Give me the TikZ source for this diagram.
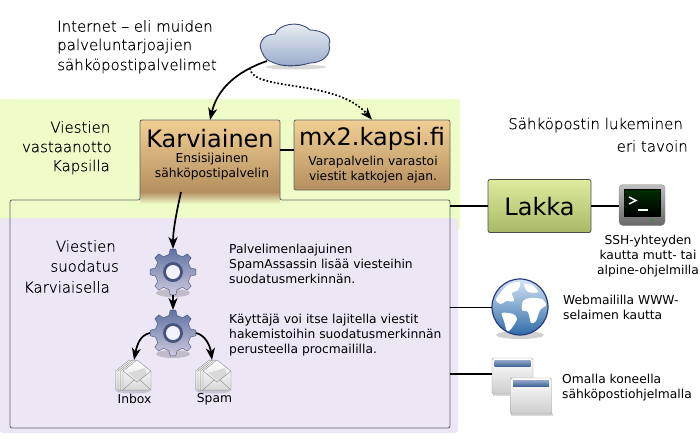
\documentclass[tikz,border=0pt]{standalone}
\usepackage{fontspec}
\setmainfont{DejaVu Sans}
\newfontfamily\thinfont[RawFeature={embolden=0.4}]{DejaVu Sans ExtraLight}
\usetikzlibrary{positioning, shapes, arrows.meta}

\definecolor{recvgreen}{HTML}{EEFCC8}
\definecolor{filtlilac}{HTML}{ECE6F5}
\definecolor{frame}{HTML}{666666}
\definecolor{tantop}{HTML}{F0CF93}
\definecolor{tanbot}{HTML}{B58F60}
\definecolor{geartop}{HTML}{5F73A3}
\definecolor{gearbot}{HTML}{CFC9DE}
\definecolor{gearline}{HTML}{46557F}
\definecolor{cloudtop}{HTML}{F2F5F9}
\definecolor{cloudbot}{HTML}{98AACA}
\definecolor{cloudline}{HTML}{3C4A78}
\definecolor{lakkatop}{HTML}{DFEB9C}
\definecolor{lakkabot}{HTML}{A6BA68}
\definecolor{globetop}{HTML}{D5E4F3}
\definecolor{globebot}{HTML}{2F6CA9}
\definecolor{globeline}{HTML}{2B3A80}
\definecolor{bartop}{HTML}{8FA3C6}
\definecolor{barbot}{HTML}{44689C}

\tikzset{
  heading/.style={font=\thinfont\fontsize{15}{20}\selectfont, inner sep=0pt},
  note/.style={font=\fontsize{12.3}{15}\selectfont, inner sep=0pt, align=left},
  boxname/.style={font=\fontsize{24}{28}\selectfont, inner sep=0pt},
  spot/.style={inner sep=0pt, outer sep=0pt},
  flow/.style={line width=1.7pt, -{Stealth[length=12pt,width=9pt,inset=3.5pt]}},
  link/.style={line width=1.8pt},
  gearicon/.pic={
    \fill[black, opacity=.18] (0,21) ellipse (17 and 4);
    \shade[draw=gearline, top color=geartop, bottom color=gearbot, line join=round]
      (-13:18) \foreach \a in {0,45,...,315} {
        -- ({\a-13}:18) -- ({\a-7}:23) -- ({\a+7}:23) -- ({\a+13}:18)} -- cycle;
    \fill[gearline] (0,0) circle (10);
    \fill[white!95!blue] (0,0) circle (7);
  },
  mailicon/.pic={
    \fill[black, opacity=.15] (-4,15) ellipse (17 and 2.5);
    \foreach \d in {-7.5,-5,-2.5,0} {
      \shade[draw=black!45, top color=white, bottom color=black!15, line join=round]
        (\d-14,-5) -- (\d,-16) -- (\d+14,-5) -- (\d+14,14) -- (\d-14,14) -- cycle;
    }
    \fill[black!15] (-9,-3) -- (8,-8) -- (10,-1) -- (0,4) -- cycle;
    \draw[black!45] (-14,-5) -- (0,6) -- (14,-5) (-14,14) -- (-3,4) (14,14) -- (3,4);
  },
  windowicon/.pic={
    \fill[black, opacity=.15] (-20,17) rectangle (22,20);
    \shade[draw=black!40, rounded corners=1.5pt, top color=white, bottom color=black!20] (-20.5,-18) rectangle (20.5,18);
    \shade[top color=bartop, bottom color=barbot] (-18,-15.5) rectangle (18,-10);
  }
}

\begin{document}
\begin{tikzpicture}[x=1pt, y=-1pt]
\useasboundingbox (0,0) rectangle (700,440);
% coloured bands
\fill[recvgreen, rounded corners=2pt] (0,99) rectangle (460,230);
\fill[filtlilac, rounded corners=3pt] (0,218) rectangle (458,433);
\node[spot, minimum width=440pt, minimum height=228pt] (postbox) at (230,314) {};

% mail servers
\node[spot, minimum width=140pt, minimum height=72pt, top color=tantop, bottom color=tanbot] (karv) at (210,156) {};
\shade[top color=tanbot, bottom color=recvgreen] (karv.south west) rectangle (280,204);
\draw[frame, rounded corners=2pt, line width=.8pt] (10,240) -- (10,200) -- (140,200) -- (140,120) -- (280,120) -- (280,200)
  -- (450,200) -- (450,428) -- (10,428) -- cycle;
\node[draw=frame, line width=.8pt, rounded corners=2pt, minimum width=156pt, minimum height=70pt, top color=tantop, bottom color=tanbot] (mxtwo) at (372,155) {};
\node[boxname] (karvname) at (210,139) {Karviainen};
\node[note, align=center] (karvnote) at (212,167) {Ensisijainen\\sähköpostipalvelin};
\node[boxname] (mxname) at (372,139) {mx2.kapsi.fi};
\node[note, align=center] (mxnote) at (373,170) {Varapalvelin varastoi\\viestit katkojen ajan.};
\draw[link] (karv.east |- 0,150) -- (mxtwo.west |- 0,150);

% cloud
\shade[draw=cloudline, line width=.9pt, top color=cloudtop, bottom color=cloudbot]
  (262,52) .. controls (257,43) and (264,34) .. (275,34) .. controls (278,25) and (298,19) .. (310,30)
  .. controls (322,30) and (333,37) .. (329,44) .. controls (332,55) and (322,63) .. (310,63)
  .. controls (296,67) and (282,67) .. (272,62) .. controls (268,61) and (264,58) .. (262,52) -- cycle;
\fill[black, opacity=.15] (296,67) ellipse (30 and 2.5);
\node[spot, minimum width=70pt, minimum height=44pt] (cloud) at (295,45) {};
\coordinate (cloudout) at (267,61);
\coordinate (cloudaux) at (250,68);
\draw[flow] (cloudout) .. controls (235,72) and (217,90) .. (karv.north);
\draw[flow, dotted] (cloudaux) .. controls (252,92) and (335,78) .. (mxtwo.north);

% filtering
\path (173,272) pic {gearicon};
\path (173,333) pic {gearicon};
\path (137,376) pic {mailicon};
\path (217,376) pic {mailicon};
\node[spot, minimum size=46pt, circle] (gearA) at (173,272) {};
\node[spot, minimum size=46pt, circle] (gearB) at (173,333) {};
\node[spot, minimum width=36pt, minimum height=32pt] (inbox) at (134,376) {};
\node[spot, minimum width=36pt, minimum height=32pt] (spam) at (212,376) {};
\coordinate (karvout) at (181,192);
\draw[flow] (karvout) .. controls (177,210) and (173,230) .. (gearA.north);
\draw[flow] (gearA.south) -- (gearB.north);
\draw[flow] (gearB.west) .. controls (140,335) and (137,345) .. (inbox.north);
\draw[flow] (gearB.east) .. controls (205,335) and (210,345) .. (spam.north);
\node[note] (inboxlabel) at (134.5,399) {Inbox};
\node[note] (spamlabel) at (214.5,399) {Spam};

% reading the mail
\node[draw=black!70, line width=.8pt, rounded corners=2pt, minimum width=103pt, minimum height=53pt,
  top color=lakkatop, bottom color=lakkabot] (lakka) at (539.5,206) {};
\node[boxname] (lakkaname) at (539.5,207) {Lakka};
\node[spot, minimum width=46pt, minimum height=41pt] (term) at (642,205) {};
\shade[draw=black!45, rounded corners=4pt, top color=black!25, bottom color=black!60] (term.north west) rectangle (term.south east);
\shade[draw=black, top color=black!70!green!60!black, bottom color=black] (624,189) rectangle (660,216);
\draw[white, line width=1.5pt] (629,197) -- (636,200.5) -- (629,204);
\draw[white, line width=1.5pt] (638,210) -- (648,210);
\fill[green!70!black] (651,220) circle (1);
\fill[black, opacity=.18] (520,335) ellipse (24 and 4);
\shade[draw=globeline, line width=1.2pt, top color=globetop, bottom color=globebot] (520,307) circle (28);
\begin{scope}[shift={(520,307)}]
  \fill[white] plot[smooth cycle, tension=.5] coordinates {(-24,-8) (-12,-22) (0,-25) (-2,-17) (-8,-14) (-6,-6) (-14,-6) (-19,-3)};
  \fill[white] plot[smooth cycle, tension=.5] coordinates {(-18,6) (-7,7) (-3,12) (-9,22) (-13,24) (-16,14)};
  \fill[white] plot[smooth cycle, tension=.5] coordinates {(3,-6) (10,-9) (22,-8) (26,-2) (20,3) (16,14) (11,16) (8,5) (2,3)};
  \fill[white] plot[smooth cycle, tension=.5] coordinates {(4,-23) (12,-22) (18,-15) (8,-15)};
\end{scope}
\node[spot, circle, minimum size=56pt] (globe) at (520,307.5) {};
\path (512.5,376) pic {windowicon};
\path (531,396) pic {windowicon};
\node[spot, minimum width=41pt, minimum height=36pt] (winback) at (512.5,374) {};
\draw[link] (lakka.west) -- (lakka.west -| postbox.east);
\draw[link] (lakka.east) -- (term.west |- lakka.east);
\draw[link] (globe.west) -- (globe.west -| postbox.east);
\draw[link] (winback.west) -- (winback.west -| postbox.east);

% headings
\node[heading, anchor=west] (inet1) at (57,26) {Internet – eli muiden};
\node[heading, anchor=west] (inet2) at (57,46) {palveluntarjoajien};
\node[heading, anchor=west] (inet3) at (57,66) {sähköpostipalvelimet};
\node[heading, anchor=east] (recv1) at (110.5,127) {Viestien};
\node[heading, anchor=east] (recv2) at (112,147) {vastaanotto};
\node[heading, anchor=east] (recv3) at (110,167) {Kapsilla};
\node[heading, anchor=east] (filt1) at (116,246) {Viestien};
\node[heading, anchor=east] (filt2) at (119,266) {suodatus};
\node[heading, anchor=east] (filt3) at (110,287) {Karviaisella};
\node[heading, anchor=east] (read1) at (683,125) {Sähköpostin lukeminen};
\node[heading, anchor=east] (read2) at (688,146) {eri tavoin};

% notes
\node[note, anchor=north west] (spamnote) at (229,244) {Palvelimenlaajuinen\\SpamAssassin lisää viesteihin\\suodatusmerkinnän.};
\node[note, anchor=north west] (procnote) at (229,314) {Käyttäjä voi itse lajitella viestit\\hakemistoihin suodatusmerkinnän\\perusteella procmaililla.};
\node[note, align=center] (sshnote) at (648,256) {SSH-yhteyden\\kautta mutt- tai\\alpine-ohjelmilla};
\node[note, anchor=north west] (webnote) at (563,295) {Webmaililla WWW-\\selaimen kautta};
\node[note, anchor=north west] (ownnote) at (562,374) {Omalla koneella\\sähköpostiohjelmalla};
\end{tikzpicture}
\end{document}
